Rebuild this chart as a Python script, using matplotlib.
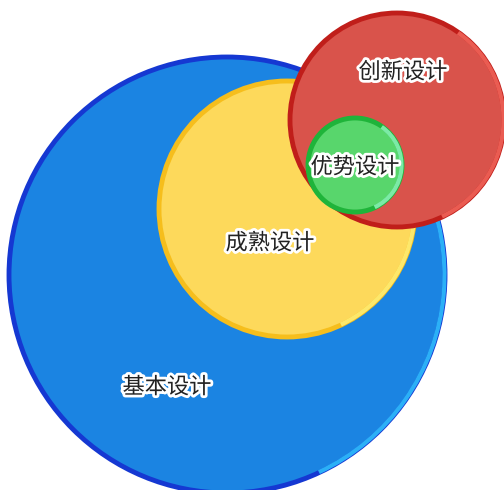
import matplotlib.pyplot as plt
from matplotlib.patches import Circle, Arc
import matplotlib.patheffects as pe

plt.rcParams['font.family'] = ['Noto Sans CJK SC', 'DejaVu Sans']

# ====== Data (pixel space of the reference) ======
labels = ["基本设计", "成熟设计", "创新设计", "优势设计"]
centers_x = [227, 287, 397, 355]
centers_y = [275, 209, 120, 165]
radii = [218, 128, 107, 47]
label_x = [167, 270, 403, 355]
label_y = [387, 243, 72, 167]

fills = ["#1b84e2", "#fdd95b", "#d9534b", "#58d66c"]
dark_rims = ["#1538d2", "#f6be1c", "#c01e1a", "#1fb43a"]
light_rims = ["#2bb0f7", "#fde86b", "#ea5c52", "#7ceaa6"]

fig = plt.figure(figsize=(5.04, 4.90), dpi=100)
ax = fig.add_axes([0, 0, 1, 1])
ax.set_xlim(0, 504)
ax.set_ylim(490, 0)
ax.set_aspect('equal')
ax.axis('off')

for i in range(len(labels)):
    c = (centers_x[i], centers_y[i])
    r = radii[i]
    ax.add_patch(Circle(c, r, facecolor=fills[i], edgecolor=dark_rims[i],
                        linewidth=3.5, zorder=i * 3 + 1))
    # lighter rim on the right side for the 3D look (y axis is inverted)
    ax.add_patch(Arc(c, 2 * r - 1, 2 * r - 1, theta1=-55, theta2=65,
                     color=light_rims[i], linewidth=3, zorder=i * 3 + 2))
    ax.text(label_x[i], label_y[i], labels[i], fontsize=16, color="#222222",
            ha='center', va='center', zorder=20,
            path_effects=[pe.withStroke(linewidth=4, foreground='white')])

plt.savefig("out.png", dpi=100)
